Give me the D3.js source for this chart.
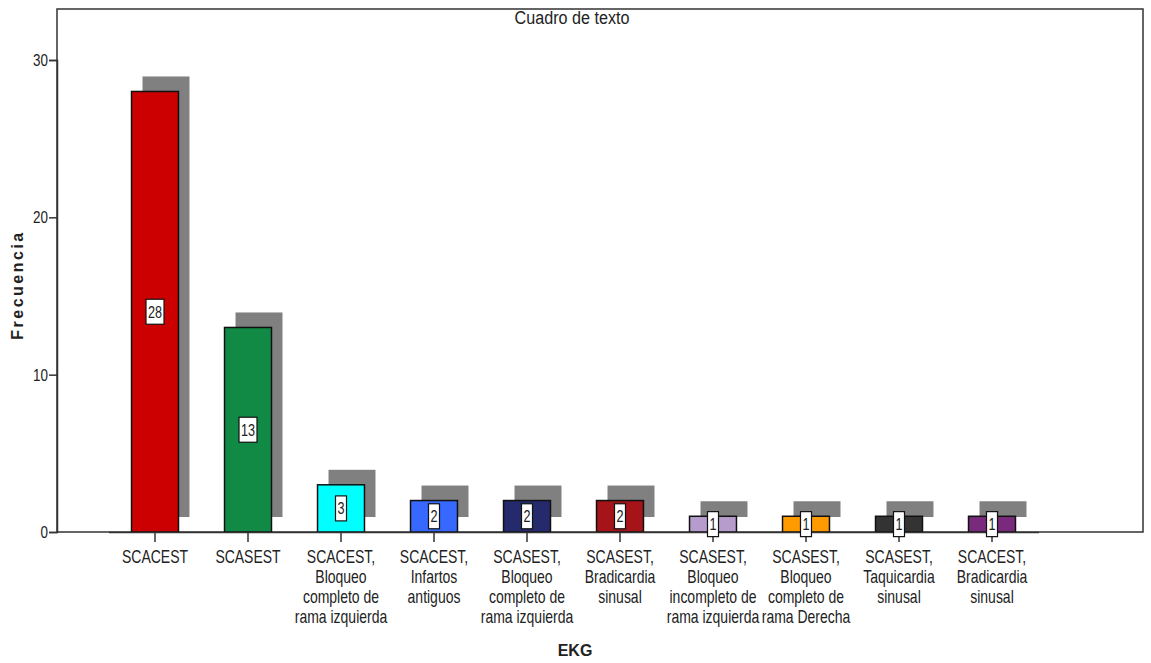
<!DOCTYPE html>
<html>
<head>
<meta charset="utf-8">
<script src="https://cdn.jsdelivr.net/npm/d3@7"></script>
<style>
  body { margin: 0; background: #fff; }
  svg text { font-family: "Liberation Sans", Arial, sans-serif; fill: #222; }
</style>
</head>
<body>
<svg id="chart" width="1151" height="663"></svg>
<script>
// chart data
var categories = [
    'SCACEST',
    'SCASEST',
    'SCACEST,\nBloqueo\ncompleto de\nrama izquierda',
    'SCACEST,\nInfartos\nantiguos',
    'SCASEST,\nBloqueo\ncompleto de\nrama izquierda',
    'SCASEST,\nBradicardia\nsinusal',
    'SCASEST,\nBloqueo\nincompleto de\nrama izquierda',
    'SCASEST,\nBloqueo\ncompleto de\nrama Derecha',
    'SCASEST,\nTaquicardia\nsinusal',
    'SCACEST,\nBradicardia\nsinusal'
];
var frecuencia = [28, 13, 3, 2, 2, 2, 1, 1, 1, 1];
var barColors = ['#cc0000', '#118a45', '#00ffff', '#3768ff', '#252a6c', '#a51419',
                 '#b69ccc', '#ff9a00', '#333333', '#7a2a7c'];
var yTicks = [0, 10, 20, 30];

var svg = d3.select('#chart');
var frame = {left: 57, right: 1143, top: 9, bottom: 532};
var NARROW = 'scale(0.79,1)';   // the reference uses a condensed face

var x = d3.scaleBand()
    .domain(categories)
    .range([108.5, 1038.5])
    .paddingInner(0.495)
    .paddingOuter(0.2475);

var y = d3.scaleLinear()
    .domain([0, 30])
    .range([frame.bottom, 60]);

// plot frame
svg.append('rect')
    .attr('x', frame.left).attr('y', frame.top)
    .attr('width', frame.right - frame.left)
    .attr('height', frame.bottom - frame.top)
    .attr('fill', 'none')
    .attr('stroke', '#333').attr('stroke-width', 1.5);

var rows = categories.map(function(c, i) {
    return {cat: c, value: frecuencia[i], color: barColors[i]};
});

// drop shadows
var shDx = 11, shDy = -15;
svg.append('g').selectAll('rect')
    .data(rows)
    .join('rect')
    .attr('x', function(d) { return x(d.cat) + shDx; })
    .attr('y', function(d) { return y(d.value) + shDy; })
    .attr('width', x.bandwidth())
    .attr('height', function(d) { return y(0) - y(d.value); })
    .attr('fill', '#808080');

// bars
svg.append('g').selectAll('rect')
    .data(rows)
    .join('rect')
    .attr('x', function(d) { return x(d.cat); })
    .attr('y', function(d) { return y(d.value); })
    .attr('width', x.bandwidth())
    .attr('height', function(d) { return y(0) - y(d.value); })
    .attr('fill', function(d) { return d.color; })
    .attr('stroke', '#111').attr('stroke-width', 1.5);

// y axis
var yAxis = svg.append('g')
    .attr('transform', 'translate(' + frame.left + ',0)')
    .call(d3.axisLeft(y).tickValues(yTicks).tickSize(8).tickPadding(0));
yAxis.select('.domain').attr('stroke', '#333').attr('stroke-width', 1.5);
yAxis.selectAll('.tick line').attr('stroke', '#333').attr('stroke-width', 1.5);
yAxis.selectAll('.tick text')
    .attr('x', null)
    .attr('transform', 'translate(-9,0) ' + NARROW)
    .style('font-size', '17px').attr('fill', '#222');

// x axis
var xAxis = svg.append('g')
    .attr('transform', 'translate(0,' + frame.bottom + ')')
    .call(d3.axisBottom(x).tickSize(10).tickSizeOuter(0).tickFormat(''));
xAxis.select('.domain').attr('stroke', '#333').attr('stroke-width', 1.5);
xAxis.selectAll('.tick line').attr('stroke', '#333').attr('stroke-width', 1.5);

xAxis.selectAll('.tick').each(function(c) {
    var t = d3.select(this).append('text')
        .attr('text-anchor', 'middle')
        .attr('transform', NARROW)
        .style('font-size', '17.7px')
        .attr('fill', '#222');
    c.split('\n').forEach(function(line, k) {
        t.append('tspan').attr('x', 0).attr('y', 31 + k * 20).text(line);
    });
});

// value labels
var lab = svg.append('g').selectAll('g')
    .data(rows)
    .join('g')
    .attr('transform', function(d) {
        return 'translate(' + (x(d.cat) + x.bandwidth() / 2) + ',' + y(d.value / 2) + ')';
    });
lab.append('rect')
    .attr('x', function(d) { return String(d.value).length > 1 ? -9 : -5.5; })
    .attr('y', -12.5)
    .attr('width', function(d) { return String(d.value).length > 1 ? 18 : 11; })
    .attr('height', 25)
    .attr('fill', '#fff')
    .attr('stroke', '#111').attr('stroke-width', 1.2);
lab.append('text')
    .attr('text-anchor', 'middle')
    .attr('dy', '0.36em')
    .attr('transform', NARROW)
    .style('font-size', '16px')
    .text(function(d) { return d.value; });

// titles
svg.append('text')
    .attr('transform', 'translate(572,24) scale(0.85,1)')
    .attr('text-anchor', 'middle')
    .style('font-size', '19px')
    .text('Cuadro de texto');

svg.append('text')
    .attr('transform', 'translate(23,285) rotate(-90)')
    .attr('text-anchor', 'middle')
    .style('font-size', '16px').style('font-weight', 'bold')
    .style('letter-spacing', '2.5px')
    .text('Frecuencia');

svg.append('text')
    .attr('x', 575).attr('y', 656)
    .attr('text-anchor', 'middle')
    .style('font-size', '16px').style('font-weight', 'bold')
    .text('EKG');
</script>
</body>
</html>
